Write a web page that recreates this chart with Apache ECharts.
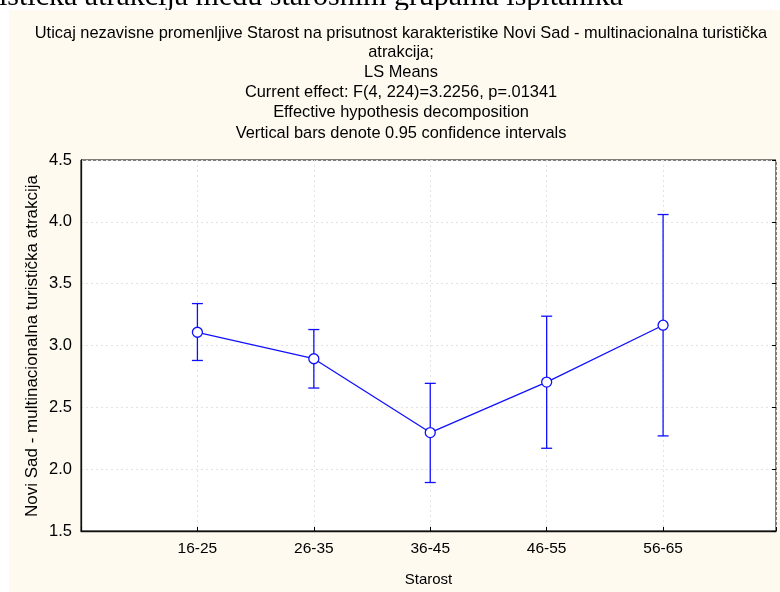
<!DOCTYPE html>
<html>
<head>
<meta charset="utf-8">
<script src="https://cdn.jsdelivr.net/npm/echarts@6/dist/echarts.min.js"></script>
<style>
html,body{margin:0;padding:0;background:#fff;}
#c{width:780px;height:592px;}
</style>
</head>
<body>
<div id="c"></div>
<script>
const categories = ['16-25', '26-35', '36-45', '46-55', '56-65'];
const means = [3.107, 2.893, 2.296, 2.704, 3.164];
const upper = [3.339, 3.129, 2.694, 3.237, 4.059];
const lower = [2.879, 2.656, 1.892, 2.169, 2.269];
const yMin = 1.5, yMax = 4.5, yStep = 0.5;
const titleLines = [
  'Uticaj nezavisne promenljive Starost na prisutnost karakteristike Novi Sad - multinacionalna turistička',
  'atrakcija;',
  'LS Means',
  'Current effect: F(4, 224)=3.2256, p=.01341',
  'Effective hypothesis decomposition',
  'Vertical bars denote 0.95 confidence intervals'
];
const titleY = [33, 52, 72, 92, 112, 133];
const xName = 'Starost';
const yName = 'Novi Sad - multinacionalna turistička atrakcija';
const pageText = 'istička atrakcija među starosnim grupama ispitanika';

const FONT = '"Liberation Sans", Arial, sans-serif';
const BLUE = '#1010ff';

const linePts = means.map((m, i) => [i + 1, m]);
const errPts = means.map((m, i) => [i + 1, lower[i], upper[i]]);

const graphics = [
  {type: 'text', left: -1, top: -18, z: -20, style: {text: pageText, font: '30px "Liberation Serif", "Times New Roman", serif', fill: '#000'}},
  {type: 'rect', shape: {x: 9, y: 10, width: 771, height: 582}, style: {fill: '#fffaf0'}, z: -10, silent: true}
];
titleLines.forEach((t, i) => {
  graphics.push({type: 'text', x: 401, y: titleY[i], z: 3,
    style: {text: t, font: '16.4px ' + FONT, fill: '#000', align: 'center', verticalAlign: 'middle'}});
});
graphics.push({type: 'text', x: 32, y: 346, rotation: Math.PI / 2, z: 3,
  style: {text: yName, font: '17px ' + FONT, fill: '#000', align: 'center', verticalAlign: 'middle'}});

const chart = echarts.init(document.getElementById('c'), null, {renderer: 'canvas'});
chart.setOption({
  backgroundColor: 'transparent',
  animation: false,
  graphic: {elements: graphics},
  grid: {left: 81, right: 4, top: 160, bottom: 59, show: true, backgroundColor: '#fff', borderColor: '#000', borderWidth: 1},
  xAxis: [{
    type: 'value', min: 0, max: 5.97, interval: 1,
    name: xName, nameLocation: 'middle', nameGap: 41,
    nameTextStyle: {fontFamily: FONT, fontSize: 15, color: '#000'},
    axisLine: {show: true, onZero: false, lineStyle: {color: '#111', width: 1.3}},
    axisTick: {show: true, inside: true, length: 4, lineStyle: {color: '#000'}},
    axisLabel: {margin: 10, fontFamily: FONT, fontSize: 15.5, color: '#000',
      formatter: v => (Number.isInteger(v) && v >= 1 && v <= categories.length) ? categories[v - 1] : ''},
    splitLine: {show: true, lineStyle: {color: '#e3e3e3', type: [2, 3], width: 1}}
  }],
  yAxis: [{
    type: 'value', min: yMin, max: yMax, interval: yStep,
    axisLine: {show: true, lineStyle: {color: '#111', width: 1.3}},
    axisTick: {show: false},
    axisLabel: {margin: 9, fontFamily: FONT, fontSize: 16.5, color: '#000', formatter: v => v.toFixed(1)},
    splitLine: {show: true, lineStyle: {color: '#e3e3e3', type: [2, 3], width: 1}}
  }, {
    type: 'value', min: yMin, max: yMax, interval: yStep, position: 'right',
    axisLine: {show: false},
    axisTick: {show: true, inside: true, length: 4, lineStyle: {color: '#000'}},
    axisLabel: {show: false},
    splitLine: {show: false}
  }],
  series: [{
    type: 'custom',
    data: errPts,
    z: 3,
    renderItem: function (params, api) {
      const x = api.value(0);
      const lo = api.coord([x, api.value(1)]);
      const hi = api.coord([x, api.value(2)]);
      const hw = 5.5;
      const st = {stroke: BLUE, lineWidth: 1.3};
      return {type: 'group', children: [
        {type: 'line', shape: {x1: lo[0], y1: lo[1], x2: hi[0], y2: hi[1]}, style: st},
        {type: 'line', shape: {x1: lo[0] - hw, y1: lo[1], x2: lo[0] + hw, y2: lo[1]}, style: st},
        {type: 'line', shape: {x1: hi[0] - hw, y1: hi[1], x2: hi[0] + hw, y2: hi[1]}, style: st}
      ]};
    }
  }, {
    type: 'line',
    data: linePts,
    z: 4,
    symbol: 'circle',
    symbolSize: 10,
    lineStyle: {color: BLUE, width: 1.3},
    itemStyle: {color: '#fff', borderColor: BLUE, borderWidth: 1.3}
  }]
});
</script>
</body>
</html>
